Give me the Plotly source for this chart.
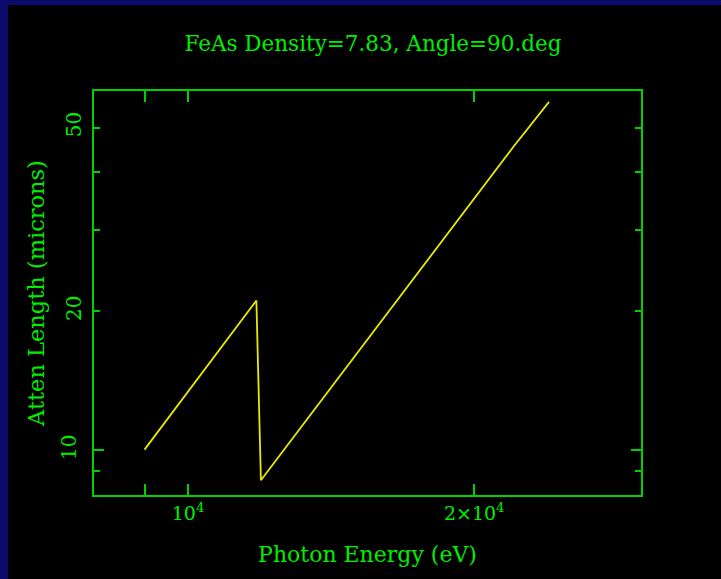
import plotly.graph_objects as go

# Data (log-log attenuation length of FeAs)
energy_low = [9000, 9500, 10000, 10500, 11000, 11500, 11800]
atten_low = [10.03, 11.64, 13.40, 15.33, 17.42, 19.68, 21.1]
energy_high = [11930, 13000, 14000, 15000, 16000, 18000, 20000, 22000, 23970]
atten_high = [8.61, 10.87, 13.30, 16.05, 19.13, 26.35, 35.1, 45.5, 56.84]

energy = energy_low + energy_high
atten = atten_low + atten_high

x_major = [10000, 20000]
x_major_text = ["10<sup>4</sup>", "2\u00d710<sup>4</sup>"]
x_minor = [9000]
y_major = [10]
y_major_text = ["10"]
y_labeled_minor = [20, 50]
y_minor = [9, 30, 40]

GREEN = "#00ee00"
LINE_GREEN = "#00d000"
FONT = "DejaVu Serif"
NAVY = "#0b0b6e"

W, H = 721, 579
L, R, T, B = 94, 80, 91, 84
pw, ph = W - L - R, H - T - B


def px(x):
    return (x - L) / pw


def py(y):
    return (H - B - y) / ph


fig = go.Figure()
fig.add_trace(go.Scatter(
    x=energy, y=atten, mode="lines",
    line=dict(color="#e8e800", width=1.8),
    showlegend=False, hoverinfo="skip",
))
# helper trace on second y axis for the labelled 20 / 50 ticks
fig.add_trace(go.Scatter(
    x=energy, y=atten, mode="lines", yaxis="y2",
    line=dict(color="rgba(0,0,0,0)", width=0),
    showlegend=False, hoverinfo="skip",
))

fig.update_layout(
    width=W, height=H,
    margin=dict(l=L, r=R, t=T, b=B),
    paper_bgcolor="black", plot_bgcolor="black",
    font=dict(family=FONT, color=GREEN, size=19),
    title=dict(text="FeAs Density=7.83, Angle=90.deg", x=(373) / W, xanchor="center",
               y=1 - 43 / H, yanchor="middle",
               font=dict(family=FONT, size=21.5, color=GREEN)),
    xaxis=dict(
        type="log", range=[3.9011, 4.4764],
        tickmode="array", tickvals=x_major, ticktext=x_major_text,
        ticks="inside", ticklen=11, tickwidth=1.5, tickcolor=LINE_GREEN,
        minor=dict(tickmode="array", tickvals=x_minor, ticks="inside", ticklen=6,
                   tickwidth=1.5, tickcolor=LINE_GREEN, showgrid=False),
        showline=True, linecolor=LINE_GREEN, linewidth=1.5, mirror="allticks",
        showgrid=False, zeroline=False,
        tickfont=dict(family=FONT, size=19, color=GREEN),
        title=dict(text="Photon Energy (eV)", standoff=24,
                   font=dict(family=FONT, size=22, color=GREEN)),
    ),
    yaxis=dict(
        type="log", range=[0.9031, 1.7782],
        tickmode="array", tickvals=y_major, ticktext=y_major_text,
        ticks="inside", ticklen=10, tickwidth=1.5, tickcolor=LINE_GREEN,
        minor=dict(tickmode="array", tickvals=y_minor, ticks="inside", ticklen=6,
                   tickwidth=1.5, tickcolor=LINE_GREEN, showgrid=False),
        showline=True, linecolor=LINE_GREEN, linewidth=1.5, mirror="allticks",
        showgrid=False, zeroline=False, tickangle=-90,
        ticklabelstandoff=8,
        tickfont=dict(family=FONT, size=20, color=GREEN),
        title=dict(text="Atten Length (microns)", standoff=6,
                   font=dict(family=FONT, size=22.5, color=GREEN)),
    ),
    yaxis2=dict(
        type="log", range=[0.9031, 1.7782], overlaying="y", side="left",
        tickmode="array", tickvals=y_labeled_minor,
        ticks="inside", ticklen=6, tickwidth=1.5, tickcolor=LINE_GREEN,
        showline=False, mirror="allticks", showgrid=False, zeroline=False,
        tickangle=-90, ticklabelstandoff=8,
        tickfont=dict(family=FONT, size=20, color=GREEN),
    ),
    shapes=[
        dict(type="rect", xref="paper", yref="paper", layer="below",
             x0=px(0), x1=px(8), y0=py(H), y1=py(0),
             fillcolor=NAVY, line=dict(width=0)),
        dict(type="rect", xref="paper", yref="paper", layer="below",
             x0=px(0), x1=px(W), y0=py(5), y1=py(0),
             fillcolor=NAVY, line=dict(width=0)),
    ],
)

fig.write_html("out.html")
